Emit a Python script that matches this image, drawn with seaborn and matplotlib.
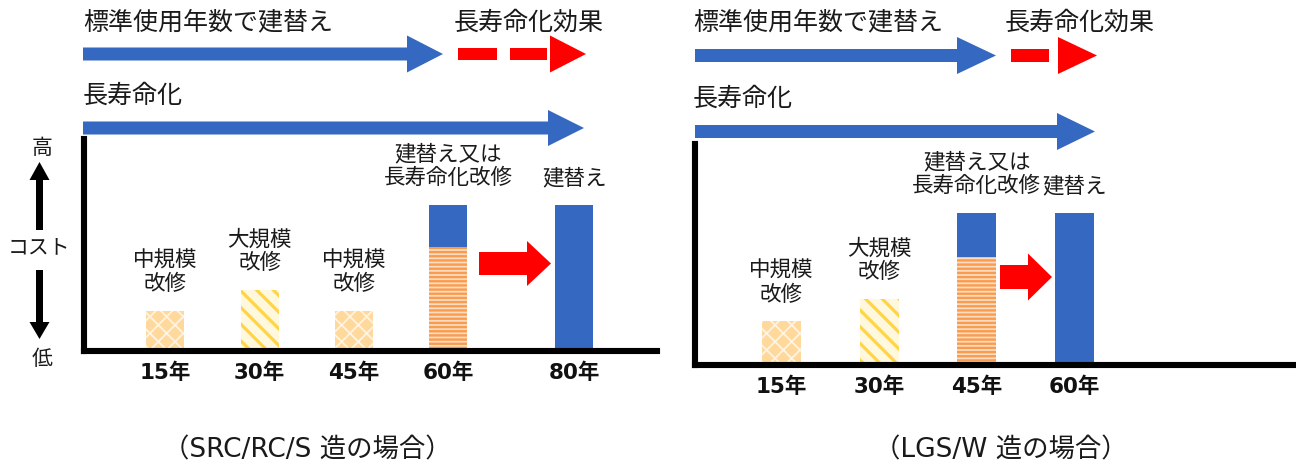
import numpy as np
import matplotlib
matplotlib.use('Agg')
import matplotlib.pyplot as plt
import seaborn as sns
from matplotlib.patches import FancyArrow, Polygon, Rectangle

# ---------------- data ----------------
# SRC/RC/S 造
src_tick_years = [15, 30, 45, 60, 80]
src_tick_labels = ['15年', '30年', '45年', '60年', '80年']
src_repair_years = [15, 30, 45, 60]
src_repair_cost = [19, 29, 19, 49]
src_repair_kind = ['中規模', '大規模', '中規模', '長寿命化']
src_rebuild_years = [60, 80]
src_rebuild_cost = [69, 69]
src_bar_labels = ['中規模\n改修', '大規模\n改修', '中規模\n改修', '建替え又は\n長寿命化改修', '建替え']

# LGS/W 造
lgs_tick_years = [15, 30, 45, 60]
lgs_tick_labels = ['15年', '30年', '45年', '60年']
lgs_repair_years = [15, 30, 45]
lgs_repair_cost = [20, 30, 49]
lgs_repair_kind = ['中規模', '大規模', '長寿命化']
lgs_rebuild_years = [45, 60]
lgs_rebuild_cost = [69, 69]
lgs_bar_labels = ['中規模\n改修', '大規模\n改修', '建替え又は\n長寿命化改修', '建替え']

captions = ['（SRC/RC/S 造の場合）', '（LGS/W 造の場合）']

# ---------------- style ----------------
sns.set_style('white')
plt.rcParams['font.family'] = ['Noto Sans CJK JP', 'DejaVu Sans']
plt.rcParams['hatch.linewidth'] = 1.6

BLUE = '#3568C0'
RED = '#FF0000'
LATIN_CJK = ['DejaVu Sans', 'Noto Sans CJK JP']
BAR_YEARS_WIDTH = 6.0

kind_style = {
    '中規模': dict(face='#FFD89C', hatch='xx', hc='#FFF4E2', hlw=1.3),
    '大規模': dict(face='#FFF8DC', hatch='\\\\', hc='#FFD447', hlw=2.3),
    '長寿命化': dict(face='#FDDCBF', hatch='----', hc='#F99C50', hlw=1.7),
}

fig = plt.figure(figsize=(12.96, 4.67), dpi=100)
W, H = 1296, 467


def px_axes(x0, x1, ytop, ybot):
    return fig.add_axes([x0 / W, (H - ybot) / H, (x1 - x0) / W, (ybot - ytop) / H])


def draw_panel(ax, tick_years, tick_labels, rep_years, rep_cost, rep_kind,
               reb_years, reb_cost, bar_labels, xlim):
    # rebuild (blue) bars
    w = BAR_YEARS_WIDTH / np.min(np.diff(sorted(reb_years)))
    n0 = len(ax.patches)
    sns.barplot(x=reb_years, y=reb_cost, native_scale=True, width=w,
                color=BLUE, saturation=1, errorbar=None, ax=ax)
    for p in ax.patches[n0:]:
        p.set_facecolor(BLUE)
        p.set_edgecolor(BLUE)
        p.set_linewidth(0)
    # repair bars (patterned)
    w = BAR_YEARS_WIDTH / np.min(np.diff(sorted(rep_years)))
    n0 = len(ax.patches)
    sns.barplot(x=rep_years, y=rep_cost, native_scale=True, width=w,
                color='white', saturation=1, errorbar=None, ax=ax)
    new = ax.patches[n0:]
    order = np.argsort(rep_years)
    for p, i in zip(new, order):
        st = kind_style[rep_kind[i]]
        p.set_facecolor(st['face'])
        p.set_edgecolor(st['hc'])
        p.set_hatch(st['hatch'])
        p.set_linewidth(0)
        if hasattr(p, 'set_hatch_linewidth'):
            p.set_hatch_linewidth(st['hlw'])
        p.set_zorder(1.5)

    # labels above bars
    tops = {}
    for yv, c in zip(rep_years, rep_cost):
        tops[yv] = max(tops.get(yv, 0), c)
    for yv, c in zip(reb_years, reb_cost):
        tops[yv] = max(tops.get(yv, 0), c)
    for yv, lab in zip(tick_years, bar_labels):
        ax.annotate(lab, xy=(yv, tops[yv]), xytext=(0, 11), textcoords='offset points',
                    ha='center', va='bottom', fontsize=15.5, linespacing=1.1,
                    color='#1a1a1a')

    ax.set_xlim(*xlim)
    ax.set_ylim(0, 100)
    ax.set_xticks(tick_years)
    ax.set_xticklabels(tick_labels)
    for t in ax.get_xticklabels():
        t.set_fontfamily(LATIN_CJK)
        t.set_fontweight('bold')
        t.set_fontsize(15.5)
        t.set_color('#111111')
    ax.tick_params(axis='x', length=0, pad=8)
    ax.set_yticks([])
    ax.set_xlabel('')
    ax.set_ylabel('')
    sns.despine(ax=ax)
    for s in ('left', 'bottom'):
        ax.spines[s].set_linewidth(4.4)
        ax.spines[s].set_color('black')
        ax.spines[s].set_capstyle('projecting')
    ax.patch.set_alpha(0)


ax1 = px_axes(84, 657, 139, 351)
draw_panel(ax1, src_tick_years, src_tick_labels, src_repair_years, src_repair_cost,
           src_repair_kind, src_rebuild_years, src_rebuild_cost, src_bar_labels,
           (2.07, 93.17))

ax2 = px_axes(695, 1293, 144, 365)
draw_panel(ax2, lgs_tick_years, lgs_tick_labels, lgs_repair_years, lgs_repair_cost,
           lgs_repair_kind, lgs_rebuild_years, lgs_rebuild_cost, lgs_bar_labels,
           (1.76, 93.5))

# ---------------- overlay (pixel coordinates) ----------------
ov = fig.add_axes([0, 0, 1, 1], zorder=5)
ov.set_xlim(0, W)
ov.set_ylim(H, 0)
ov.axis('off')


def harrow(x0, x1, yc, shaft, head_len, head_h, color):
    ov.add_patch(FancyArrow(x0, yc, x1 - x0, 0, width=shaft, head_width=head_h,
                            head_length=head_len, length_includes_head=True,
                            color=color, lw=0))


def head(xb, xt, yc, h, color):
    ov.add_patch(Polygon([(xb, yc - h / 2), (xt, yc), (xb, yc + h / 2)],
                         closed=True, color=color, lw=0))


# left panel header arrows
harrow(83, 443, 54, 13, 36, 37, BLUE)
ov.add_patch(Rectangle((458, 47.8), 39, 12.5, color=RED, lw=0))
ov.add_patch(Rectangle((510, 47.8), 37, 12.5, color=RED, lw=0))
head(550, 586, 54, 37, RED)
harrow(83, 584, 128, 13, 36, 36, BLUE)

# right panel header arrows
harrow(695, 996, 55.5, 13, 39, 37, BLUE)
ov.add_patch(Rectangle((1011, 49), 38, 13, color=RED, lw=0))
head(1058, 1097, 55.5, 37, RED)
harrow(695, 1095, 131.5, 13, 38, 37, BLUE)

# red arrows inside the charts
harrow(479, 551, 263.5, 23, 24, 45, RED)
harrow(1000, 1052, 277, 24, 24, 47, RED)

# cost axis arrows
ov.add_patch(FancyArrow(39.5, 230, 0, -68, width=7, head_width=20, head_length=18,
                        length_includes_head=True, color='black', lw=0))
ov.add_patch(FancyArrow(39.5, 270, 0, 69, width=7, head_width=20, head_length=17,
                        length_includes_head=True, color='black', lw=0))

TXT = '#1a1a1a'
for s, x, y in [('標準使用年数で建替え', 83, 22), ('長寿命化効果', 454, 23), ('長寿命化', 83, 96),
                ('標準使用年数で建替え', 693, 22), ('長寿命化効果', 1005, 23), ('長寿命化', 693, 99)]:
    ov.text(x, y, s, ha='left', va='center', fontsize=18, color=TXT)

for s, x, y in [('高', 42, 148), ('コスト', 39, 247), ('低', 42, 359)]:
    ov.text(x, y, s, ha='center', va='center', fontsize=15, color=TXT)

for s, x in zip(captions, [307, 1001]):
    ov.text(x, 450, s, ha='center', va='center', fontsize=19, color=TXT,
            family=LATIN_CJK)

fig.savefig('out.png', dpi=100)
